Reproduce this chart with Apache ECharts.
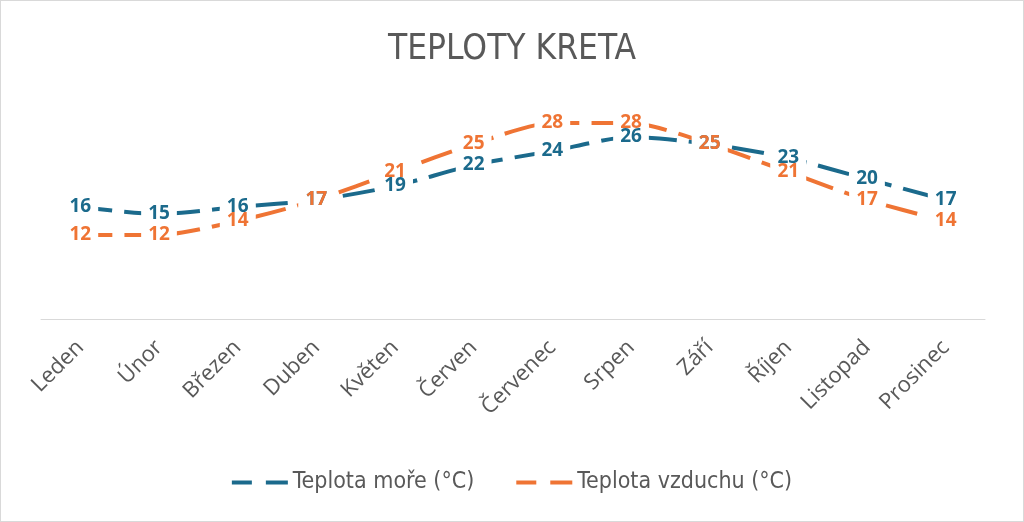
<!DOCTYPE html>
<html>
<head>
<meta charset="utf-8">
<script src="https://cdn.jsdelivr.net/npm/echarts@6/dist/echarts.min.js"></script>
<style>
  html, body { margin: 0; padding: 0; background: #fff; }
  #chart { width: 1022px; height: 520px; border: 1px solid #d9d9d9; }
</style>
</head>
<body>
<div id="chart"></div>
<script>
const months = ['Leden', 'Únor', 'Březen', 'Duben', 'Květen', 'Červen', 'Červenec', 'Srpen', 'Září', 'Říjen', 'Listopad', 'Prosinec']
const seaTemp = [16, 15, 16, 17, 19, 22, 24, 26, 25, 23, 20, 17]
const airTemp = [12, 12, 14, 17, 21, 25, 28, 28, 25, 21, 17, 14]

const seaColor = '#1b6a8c'
const airColor = '#ef7434'

const chart = echarts.init(document.getElementById('chart'))

const lineSeries = (name, data, color, z) => ({
  name: name,
  type: 'line',
  data: data,
  smooth: 0.25,
  symbol: 'none',
  color: color,
  lineStyle: { color: color, width: 4, type: [32, 12] },
  z: z
})

// labels in their own series: white boxes first (cut the lines), then the text on top
const labelSeries = (name, data, color, z, box) => ({
  name: name,
  type: 'line',
  data: data,
  symbol: 'circle',
  symbolSize: 0,
  showSymbol: true,
  lineStyle: { width: 0, opacity: 0 },
  label: {
    show: true,
    position: 'inside',
    color: box ? 'rgba(0,0,0,0)' : color,
    fontFamily: '"Open Sans", sans-serif',
    fontWeight: 'bold',
    fontSize: 19,
    lineHeight: 20,
    backgroundColor: box ? '#fff' : 'transparent',
    padding: [2, 7]
  },
  silent: true,
  z: z
})

const option = {
  backgroundColor: '#fff',
  animation: false,
  title: {
    text: 'TEPLOTY KRETA',
    left: 'center',
    top: 26,
    textStyle: {
      color: '#595959',
      fontSize: 35,
      fontWeight: 'normal',
      fontFamily: '"Liberation Sans Narrow", "DejaVu Sans Condensed", sans-serif'
    }
  },
  legend: {
    bottom: 22,
    left: 'center',
    itemWidth: 56,
    itemHeight: 4,
    itemGap: 42,
    icon: 'path://M0,0H20V4H0Z M34,0H56V4H34Z',
    textStyle: {
      color: '#595959',
      fontSize: 23,
      fontFamily: '"Liberation Sans Narrow", "DejaVu Sans Condensed", sans-serif'
    },
    data: ['Teplota moře (°C)', 'Teplota vzduchu (°C)']
  },
  grid: {
    left: 40,
    right: 38,
    top: 108,
    bottom: 202
  },
  xAxis: {
    type: 'category',
    boundaryGap: true,
    data: months,
    axisLine: { lineStyle: { color: '#d9d9d9', width: 1 } },
    axisTick: { show: false },
    axisLabel: {
      rotate: 45,
      color: '#595959',
      fontSize: 22,
      margin: 25,
      fontFamily: '"Open Sans", sans-serif',
      interval: 0
    }
  },
  yAxis: {
    type: 'value',
    min: 0,
    max: 30,
    show: false
  },
  series: [
    lineSeries('Teplota moře (°C)', seaTemp, seaColor, 2),
    lineSeries('Teplota vzduchu (°C)', airTemp, airColor, 3),
    labelSeries('seaBox', seaTemp, seaColor, 10, true),
    labelSeries('airBox', airTemp, airColor, 10, true),
    labelSeries('seaText', seaTemp, seaColor, 12, false),
    labelSeries('airText', airTemp, airColor, 13, false)
  ]
}

chart.setOption(option)
</script>
</body>
</html>
